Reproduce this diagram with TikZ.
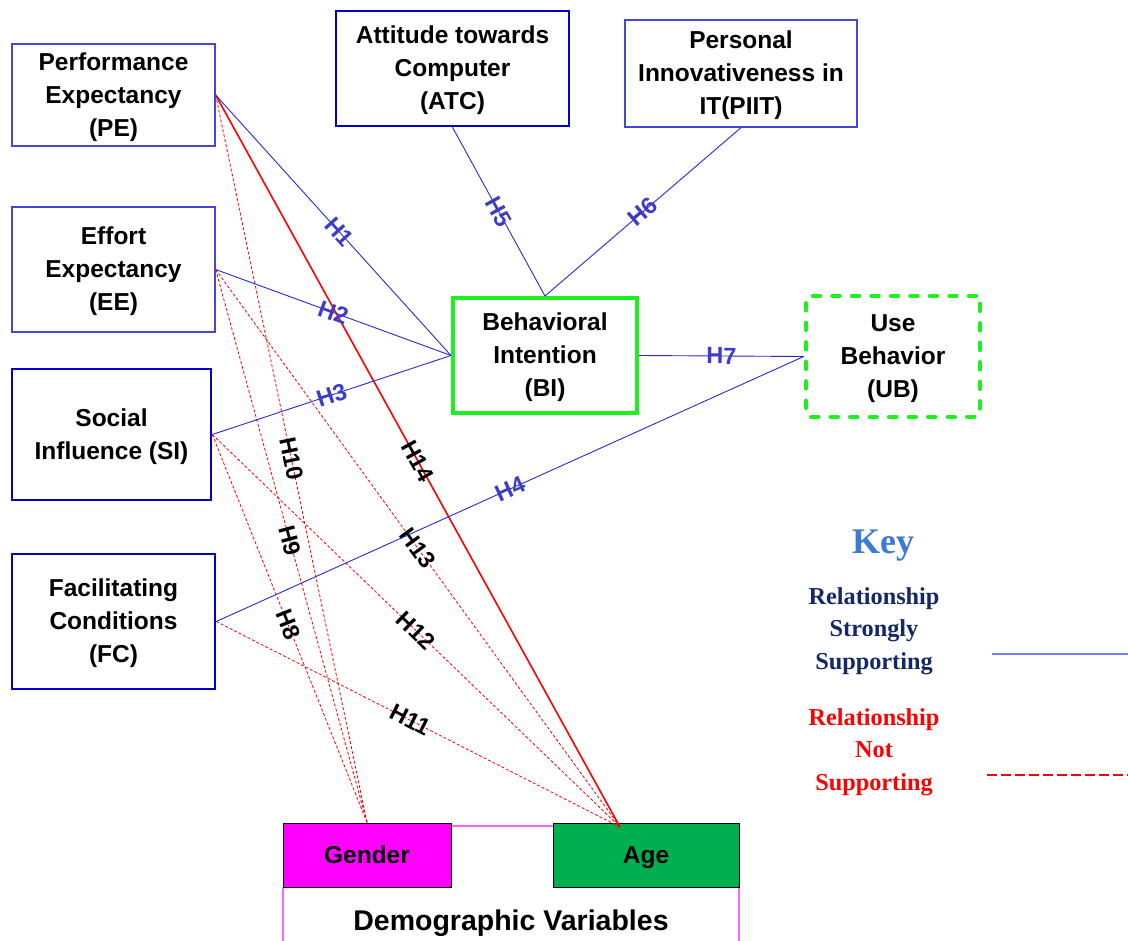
\documentclass[tikz,border=0pt]{standalone}
\usepackage{fontspec}
\setmainfont{Liberation Sans}
\newfontfamily\keyfont{Liberation Serif}
\definecolor{lineblue}{RGB}{40,40,210}
\definecolor{labblue}{RGB}{60,60,200}
\definecolor{thinblue}{RGB}{70,70,215}
\definecolor{thickblue}{RGB}{0,0,200}
\definecolor{bgreen}{RGB}{30,240,30}
\definecolor{agegreen}{RGB}{0,176,80}
\definecolor{keyblue}{RGB}{58,123,213}
\definecolor{navy}{RGB}{18,40,105}
\definecolor{keyline}{RGB}{120,120,255}
\definecolor{mag}{RGB}{255,0,255}
\definecolor{magline}{RGB}{255,100,255}
\begin{document}
\begin{tikzpicture}[x=1pt,y=-1pt,
  lbl/.style={font=\bfseries\fontsize{24.5}{33}\selectfont, align=center, inner sep=0pt, text depth=1pt},
  thinbox/.style={lbl, draw=thinblue, line width=1.3pt},
  thickbox/.style={lbl, draw=thickblue, line width=2.6pt},
  demobox/.style={lbl, draw=black, line width=1pt, minimum height=64pt, text height=17.5pt, text depth=0pt},
  sup/.style={draw=lineblue, line width=0.9pt},
  notsup/.style={draw=red, line width=0.8pt, dash pattern=on 3pt off 2pt},
  hb/.style={font=\bfseries\fontsize{23.5}{23.5}\selectfont, text=labblue, sloped, inner sep=0pt, pos=0.5},
  hk/.style={font=\bfseries\fontsize{23.5}{23.5}\selectfont, text=black, sloped, inner sep=0pt, pos=0.5}]
\useasboundingbox (0,0) rectangle (1128,941);
% boxes
\node[thinbox, minimum width=203pt, minimum height=102pt] (PE) at (113.5,95) {Performance\\Expectancy\\(PE)};
\node[thinbox, minimum width=203pt, minimum height=125pt] (EE) at (113.5,269.5) {Effort\\Expectancy\\(EE)};
\node[thickbox, minimum width=199pt, minimum height=131pt] (SI) at (111.5,434.5) {Social\\Influence (SI)};
\node[thickbox, minimum width=203pt, minimum height=135pt] (FC) at (113.5,621.5) {Facilitating\\Conditions\\(FC)};
\node[thickbox, minimum width=233pt, minimum height=115pt] (ATC) at (452.5,68.5) {Attitude towards\\Computer\\(ATC)};
\node[thinbox, minimum width=232pt, minimum height=107pt] (PIIT) at (741,73.5) {Personal\\Innovativeness in\\IT(PIIT)};
\node[lbl, draw=bgreen, line width=4pt, minimum width=184pt, minimum height=115pt] (BI) at (545,355.5) {Behavioral\\Intention\\(BI)};
\node[lbl, draw=bgreen, line width=4.5pt, line cap=round, dash pattern=on 7pt off 12.5pt, rounded corners=4pt, minimum width=174pt, minimum height=121pt] (UB) at (893,356.5) {Use\\Behavior\\(UB)};
% demographic
\draw[magline, line width=1.2pt] (451,826) -- (553,826);
\draw[magline, line width=1.2pt] (283,887) -- (283,941);
\draw[magline, line width=1.2pt] (739,887) -- (739,941);
\node[demobox, fill=mag, minimum width=168pt] (Gender) at (367,855) {Gender};
\node[demobox, fill=agegreen, minimum width=186pt] (Age) at (646,855) {Age};
\coordinate (agept) at (620,827);
\node[font=\bfseries\fontsize{28.5}{30}\selectfont, inner sep=0pt] (demo) at (511,923) {Demographic Variables};
% not supported relationships
\draw[notsup] (PE.east) -- node[hk] {H10} (Gender.north);
\draw[notsup] (EE.east) -- node[hk, pos=0.49] {H9} (Gender.north);
\draw[notsup] (SI.east) -- node[hk, pos=0.49] {H8} (Gender.north);
\draw[notsup] (EE.east) -- node[hk] {H13} (agept);
\draw[notsup] (SI.east) -- node[hk] {H12} (agept);
\draw[notsup] (FC.east) -- node[hk, pos=0.48] {H11} (agept);
\draw[red, line width=1.6pt] (PE.east) -- node[hk] {H14} (agept);
% supported relationships
\draw[sup] (PE.east) -- node[hb, pos=0.525] {H1} (BI.west);
\draw[sup] (EE.east) -- node[hb] {H2} (BI.west);
\draw[sup] (SI.east) -- node[hb] {H3} (BI.west);
\draw[sup] (FC.east) -- node[hb] {H4} (UB.west);
\draw[sup] (ATC.south) -- node[hb] {H5} (BI.north);
\draw[sup] (PIIT.south) -- node[hb] {H6} (BI.north);
\draw[sup] (BI.east) -- node[hb] {H7} (UB.west);
% key
\node[font=\keyfont\bfseries\fontsize{36}{36}\selectfont, text=keyblue, inner sep=0pt] (key) at (883,546) {Key};
\node[font=\keyfont\bfseries\fontsize{24.3}{32.5}\selectfont, text=navy, align=center, inner sep=0pt] (ks) at (874,631) {Relationship\\Strongly\\Supporting};
\node[font=\keyfont\bfseries\fontsize{24.3}{32.5}\selectfont, text=red, align=center, inner sep=0pt] (kn) at (874,752) {Relationship\\Not\\Supporting};
\coordinate (ksa) at (992,654);
\coordinate (ksb) at (1128,654);
\coordinate (kna) at (987,775);
\coordinate (knb) at (1128,775);
\draw[keyline, line width=1.5pt] (ksa) -- (ksb);
\draw[red, line width=2pt, dash pattern=on 10pt off 4pt] (kna) -- (knb);
\end{tikzpicture}
\end{document}
